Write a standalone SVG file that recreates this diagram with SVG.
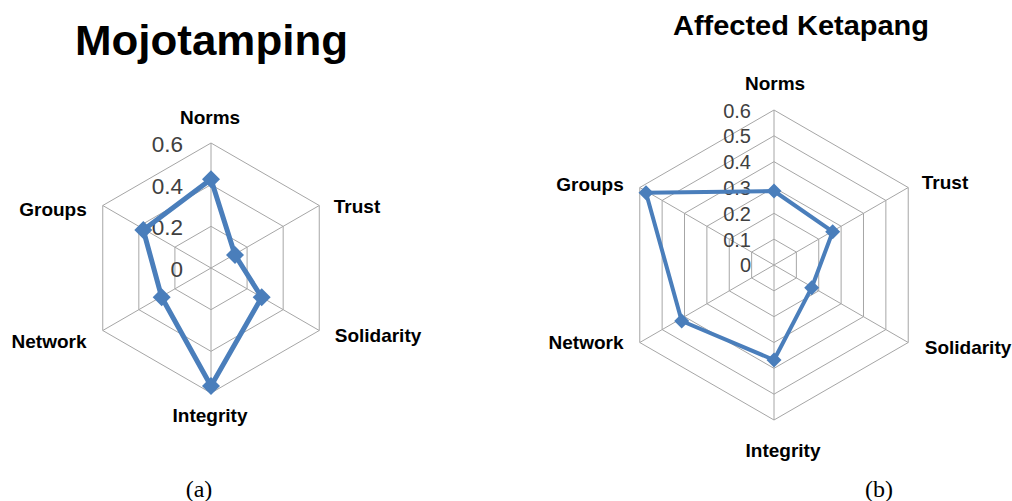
<svg xmlns="http://www.w3.org/2000/svg" width="1012" height="501" viewBox="0 0 1012 501">
<style>
.grid{fill:none;stroke:#a6a6a6;stroke-width:1}
.series{fill:none;stroke:#4a7ebb;stroke-linejoin:round}
.mk{fill:#4a7ebb}
.lbl{font-family:"Liberation Sans",Arial,sans-serif;font-weight:bold;font-size:19px;fill:#000;text-anchor:middle}
.tick{font-family:"Liberation Sans",Arial,sans-serif;fill:#404040;text-anchor:end}
.title{font-family:"Liberation Sans",Arial,sans-serif;font-weight:bold;fill:#000}
.cap{font-family:"Liberation Serif","Times New Roman",serif;font-size:24px;fill:#000;text-anchor:middle}
</style>
<defs>
<path id="dA" d="M0,-9 L9,0 L0,9 L-9,0 Z"/>
<path id="dB" d="M0,-7.5 L7.5,0 L0,7.5 L-7.5,0 Z"/>
</defs>
<rect width="1012" height="501" fill="#fff"/>

<g id="chartA">
<text class="title" x="75" y="55" font-size="42" textLength="273" lengthAdjust="spacingAndGlyphs">Mojotamping</text>
<g id="gridA">
<polygon class="grid" points="211,226.33 247.08,247.17 247.08,288.83 211,309.67 174.92,288.83 174.92,247.17"/>
<polygon class="grid" points="211,184.67 283.17,226.33 283.17,309.67 211,351.33 138.83,309.67 138.83,226.33"/>
<polygon class="grid" points="211,143 319.25,205.5 319.25,330.5 211,393 102.75,330.5 102.75,205.5"/>
<path class="grid" d="M211,268 L211,143 M211,268 L319.25,205.5 M211,268 L319.25,330.5 M211,268 L211,393 M211,268 L102.75,330.5 M211,268 L102.75,205.5"/>
</g>
<g id="ticksA" font-size="22.5">
<text class="tick" x="183" y="152">0.6</text>
<text class="tick" x="183" y="193.5">0.4</text>
<text class="tick" x="183" y="235">0.2</text>
<text class="tick" x="183" y="277">0</text>
</g>
<g id="labelsA">
<text class="lbl" x="210" y="124">Norms</text>
<text class="lbl" x="357" y="213">Trust</text>
<text class="lbl" x="378" y="342">Solidarity</text>
<text class="lbl" x="210" y="422">Integrity</text>
<text class="lbl" x="49" y="348">Network</text>
<text class="lbl" x="53" y="216">Groups</text>
</g>
<g id="seriesA">
<polygon class="series" stroke-width="5" points="211,179.3 235,255 261.7,297.3 211,386 161.7,297.3 143.3,230"/>
<use href="#dA" class="mk" x="211" y="179.3"/>
<use href="#dA" class="mk" x="235" y="255"/>
<use href="#dA" class="mk" x="261.7" y="297.3"/>
<use href="#dA" class="mk" x="211" y="386"/>
<use href="#dA" class="mk" x="161.7" y="297.3"/>
<use href="#dA" class="mk" x="143.3" y="230"/>
</g>
<text class="cap" x="199" y="497">(a)</text>
</g>

<g id="chartB">
<text class="title" x="673" y="35" font-size="27" textLength="256" lengthAdjust="spacingAndGlyphs">Affected Ketapang</text>
<g id="gridB">
<polygon class="grid" points="774,239.17 796.37,252.08 796.37,277.92 774,290.83 751.63,277.92 751.63,252.08"/>
<polygon class="grid" points="774,213.33 818.74,239.17 818.74,290.83 774,316.67 729.26,290.83 729.26,239.17"/>
<polygon class="grid" points="774,187.5 841.12,226.25 841.12,303.75 774,342.5 706.88,303.75 706.88,226.25"/>
<polygon class="grid" points="774,161.67 863.49,213.33 863.49,316.67 774,368.33 684.51,316.67 684.51,213.33"/>
<polygon class="grid" points="774,135.83 885.86,200.42 885.86,329.58 774,394.17 662.14,329.58 662.14,200.42"/>
<polygon class="grid" points="774,110 908.23,187.5 908.23,342.5 774,420 639.77,342.5 639.77,187.5"/>
<path class="grid" d="M774,265 L774,110 M774,265 L908.23,187.5 M774,265 L908.23,342.5 M774,265 L774,420 M774,265 L639.77,342.5 M774,265 L639.77,187.5"/>
</g>
<g id="ticksB" font-size="20">
<text class="tick" x="751" y="117.5">0.6</text>
<text class="tick" x="751" y="143.3">0.5</text>
<text class="tick" x="751" y="169.1">0.4</text>
<text class="tick" x="751" y="194.9">0.3</text>
<text class="tick" x="751" y="220.7">0.2</text>
<text class="tick" x="751" y="246.5">0.1</text>
<text class="tick" x="751" y="272.3">0</text>
</g>
<g id="labelsB">
<text class="lbl" x="775" y="90">Norms</text>
<text class="lbl" x="945" y="188.5">Trust</text>
<text class="lbl" x="968" y="353.5">Solidarity</text>
<text class="lbl" x="783" y="457">Integrity</text>
<text class="lbl" x="586" y="348.5">Network</text>
<text class="lbl" x="590" y="191">Groups</text>
</g>
<g id="seriesB">
<polygon class="series" stroke-width="4" points="774,191 832.7,231.7 811.7,287.7 774,360 681.7,321 646,192.7"/>
<use href="#dB" class="mk" x="774" y="191"/>
<use href="#dB" class="mk" x="832.7" y="231.7"/>
<use href="#dB" class="mk" x="811.7" y="287.7"/>
<use href="#dB" class="mk" x="774" y="360"/>
<use href="#dB" class="mk" x="681.7" y="321"/>
<use href="#dB" class="mk" x="646" y="192.7"/>
</g>
<text class="cap" x="879" y="497">(b)</text>
</g>
</svg>
